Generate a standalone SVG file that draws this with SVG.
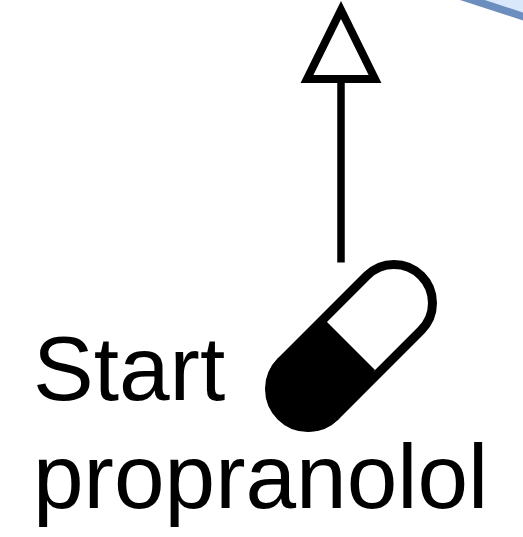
<svg xmlns="http://www.w3.org/2000/svg" width="523" height="537" viewBox="0 0 523 537">
<style>.t{font-family:"Liberation Sans",Arial,sans-serif;font-size:91px;fill:#000}</style>
<rect width="523" height="537" fill="#fff"/>
<g id="connectors">
<line x1="341" y1="262.5" x2="341" y2="79" stroke="#000" stroke-width="7.5"/>
<polygon points="341,10 307,79 375,79" fill="#fff" stroke="#000" stroke-width="8"/>
</g>
<g id="cropped-node">
<polygon points="485,0 523,0 523,12.5" fill="#dae8fc"/>
<polygon points="460,0 485,0 523,12.5 523,20.5" fill="#6c8ebf"/>
</g>
<g id="pill">
<rect x="-99.3" y="-38.5" width="198.6" height="77" rx="38.5" transform="translate(351 346) rotate(-45)" fill="#fff" stroke="#000" stroke-width="9"/>
<path d="M326.5 321.5 L375 370 L338.4 419.4 A43 43 0 0 1 277.6 358.6 Z" fill="#000"/>
</g>
<g id="label">
<text class="t" x="33" y="400">Start</text>
<text class="t" x="33" y="508">propranolol</text>
</g>
</svg>
